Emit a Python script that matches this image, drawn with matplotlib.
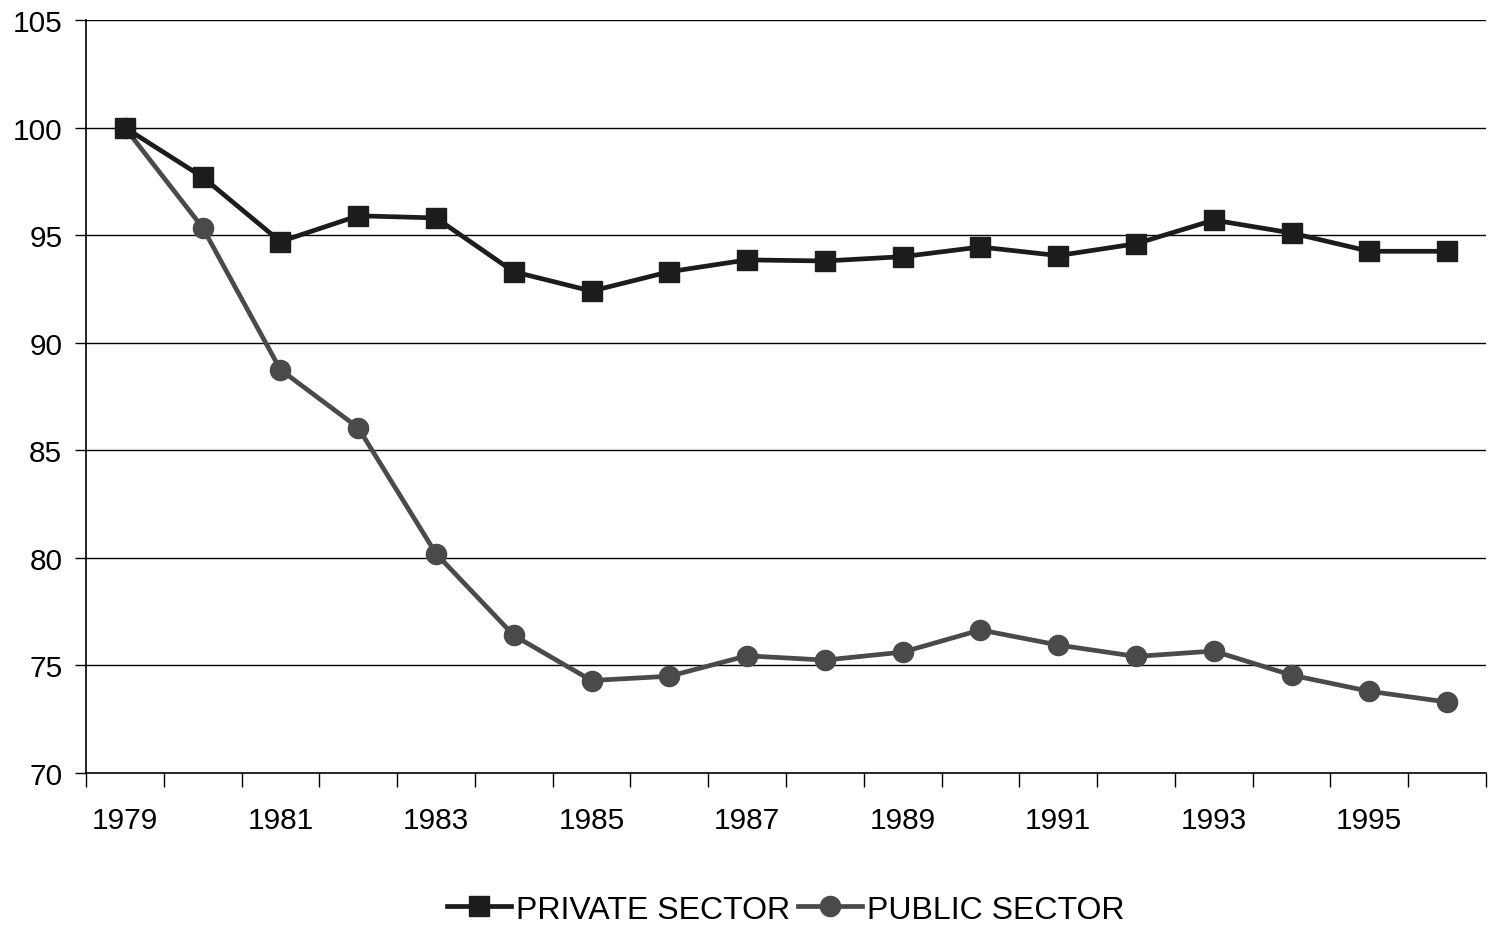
import matplotlib.pyplot as plt

plt.rcParams['font.family'] = ['Liberation Sans', 'DejaVu Sans']

# Data
years = list(range(1979, 1997))
private_sector = [100, 97.7, 94.7, 95.9, 95.8, 93.3, 92.4, 93.3, 93.85, 93.8,
                  94.0, 94.45, 94.05, 94.6, 95.7, 95.1, 94.25, 94.25]
public_sector = [100, 95.35, 88.75, 86.05, 80.2, 76.4, 74.3, 74.5, 75.45, 75.25,
                 75.62, 76.65, 75.95, 75.42, 75.67, 74.55, 73.8, 73.3]
year_labels = [str(y) for y in years[::2]]

fig = plt.figure(figsize=(14.92, 9.29), dpi=100)
ax = fig.add_axes([0.0576, 0.1668, 0.9384, 0.8106])

x = list(range(len(years)))
ax.plot(x, private_sector, color='#1c1c1c', lw=3.4, marker='s', ms=14.5,
        label='PRIVATE SECTOR', zorder=4)
ax.plot(x, public_sector, color='#4a4a4a', lw=3.4, marker='o', ms=14.5,
        label='PUBLIC SECTOR', zorder=3)

ax.set_xlim(-0.5, len(years) - 0.5)
ax.set_ylim(70, 105)
ax.set_yticks(range(70, 106, 5))
for yv in range(75, 106, 5):
    ax.axhline(yv, color='black', lw=1, zorder=1)

# tick marks between categories, labels on every other year
ax.set_xticks([i - 0.5 for i in range(len(years) + 1)])
ax.set_xticklabels([])
ax.set_xticks(x[::2], minor=True)
ax.set_xticklabels(year_labels, minor=True)
ax.tick_params(axis='x', which='major', direction='out', length=10, width=1)
ax.tick_params(axis='x', which='minor', length=0, pad=24, labelsize=21.5)
ax.tick_params(axis='y', direction='out', length=8, width=1, labelsize=21.5, pad=9)

for s in ['top', 'right']:
    ax.spines[s].set_visible(False)
for s in ['left', 'bottom']:
    ax.spines[s].set_linewidth(1.2)

ax.legend(loc='upper center', bbox_to_anchor=(0.5, -0.136), ncol=2, frameon=False,
          fontsize=23, handlelength=2.0, handletextpad=0.15, columnspacing=0.25,
          borderaxespad=0.2)

plt.savefig('out.png', dpi=100)
